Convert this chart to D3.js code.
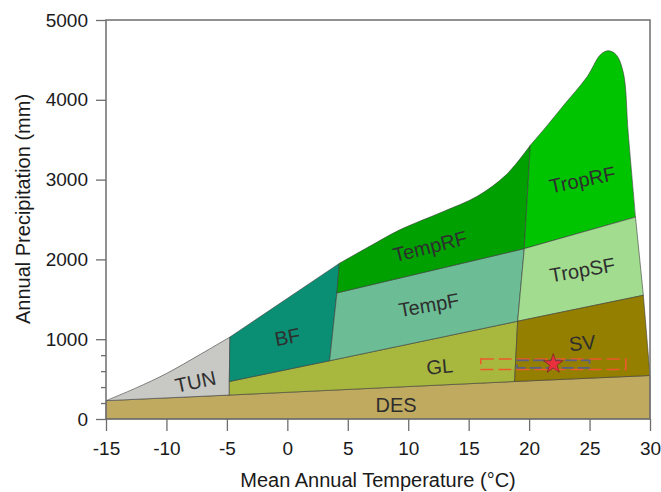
<!DOCTYPE html>
<html>
<head>
<meta charset="utf-8">
<script src="https://cdn.jsdelivr.net/npm/d3@7"></script>
<style>
  body { margin: 0; background: #fff; }
  svg { display: block; font-family: "Liberation Sans", Arial, Helvetica, sans-serif; }
</style>
</head>
<body>
<svg id="chart" width="661" height="492"></svg>
<script>
// axis ticks
var xTicks = [-15, -10, -5, 0, 5, 10, 15, 20, 25, 30];
var yTicks = [0, 1000, 2000, 3000, 4000, 5000];
var yMinorTicks = [200, 400, 600, 800];

// biome boundaries, [temperature degC, precipitation mm]
var desBase = [[-15, 0], [30, 0]];
var desTop = [[-15, 230], [-4.8, 300], [18.8, 470], [30, 545]];
var tunTop = [[-15, 230], [-12.5, 390], [-10, 570], [-7.2, 810], [-4.75, 1027]];
var coldEdge = [[-4.75, 1027], [-4.8, 470], [-4.8, 300]];
var glTop = [[-4.8, 470], [3.5, 730], [19.05, 1225]];
var bfTop = [[-4.75, 1027], [4.3, 1950]];
var bfRight = [[4.3, 1950], [4.1, 1580], [3.5, 730]];
var tempFTop = [[4.1, 1580], [19.6, 2135]];
var tempRFTop = [[4.3, 1950], [7, 2180], [9.3, 2370], [12.9, 2600], [15.7, 2790], [18.1, 3060], [20.1, 3430]];
var warmEdge = [[20.1, 3430], [19.6, 2135], [19.05, 1225], [18.8, 470]];
var tropRFTop = [[20.1, 3430], [21.45, 3670], [22.8, 3920], [24.8, 4290], [25.9, 4565], [26.55, 4615],
                 [27.2, 4565], [27.8, 4335], [28.2, 3580], [28.8, 2530]];
var tropSFTop = [[19.6, 2135], [28.8, 2530]];
var svTop = [[19.05, 1225], [29.45, 1550]];
var dryEdge = [[28.8, 2530], [29.45, 1550], [30, 545]];

var biomes = ["DES", "TUN", "GL", "BF", "TempF", "TempRF", "TropRF", "TropSF", "SV"];

// site marker and its ranges
var site = [22, 690];
var siteRange = [[19, 640], [25, 735]];
var siteRangeWide = [[16, 620], [28, 752]];

// ---- layout
var margin = { left: 106, top: 20, right: 11, bottom: 73 };
var width = 661 - margin.left - margin.right;
var height = 492 - margin.top - margin.bottom;

var colors = {
  DES: "#c0aa60", TUN: "#c8c8c4", GL: "#a8b83e", BF: "#0b8f74", TempF: "#6cbd95",
  TempRF: "#00a000", TropRF: "#00c400", TropSF: "#a2dc8e", SV: "#947f00"
};
var labelAt = {
  DES: [9, 180, 0], TUN: [-7.6, 470, -12], BF: [0, 1030, -11], GL: [12.6, 660, -5],
  TempF: [11.7, 1430, -10], TempRF: [11.8, 2165, -14], TropRF: [24.4, 3000, -12],
  TropSF: [24.4, 1870, -10], SV: [24.4, 955, -6]
};

var x = d3.scaleLinear().domain([-15, 30]).range([0, width]);
var y = d3.scaleLinear().domain([0, 5000]).range([height, 0]);

var svg = d3.select("#chart");
var g = svg.append("g").attr("transform", "translate(" + margin.left + "," + margin.top + ")");

var straight = d3.line().x(function(d) { return x(d[0]); }).y(function(d) { return y(d[1]); });
var curved = d3.line().x(function(d) { return x(d[0]); }).y(function(d) { return y(d[1]); })
  .curve(d3.curveCatmullRom.alpha(0.5));

// piece of a boundary, from index a to index b (reversed if a > b)
function part(arr, a, b, smooth) {
  var pts = a <= b ? arr.slice(a, b + 1) : arr.slice(b, a + 1).reverse();
  return { pts: pts, smooth: smooth };
}

function outline(parts) {
  return parts.map(function(p, i) {
    var s = (p.smooth ? curved : straight)(p.pts);
    return i === 0 ? s : "L" + s.slice(1);
  }).join("") + "Z";
}

var shapes = {
  DES: [part(desBase, 0, 1), part(desTop, 3, 0)],
  TUN: [part(tunTop, 0, 4, true), part(coldEdge, 0, 2), part(desTop, 1, 0)],
  GL: [part(glTop, 0, 2), part(warmEdge, 2, 3), part(desTop, 2, 1), part(coldEdge, 2, 1)],
  BF: [part(bfTop, 0, 1), part(bfRight, 0, 2), part(glTop, 1, 0), part(coldEdge, 1, 0)],
  TempF: [part(tempFTop, 0, 1), part(warmEdge, 1, 2), part(glTop, 2, 1), part(bfRight, 2, 1)],
  TempRF: [part(tempRFTop, 0, 6, true), part(warmEdge, 0, 1), part(tempFTop, 1, 0), part(bfRight, 1, 0)],
  TropRF: [part(tropRFTop, 0, 9, true), part(tropSFTop, 1, 0), part(warmEdge, 1, 0)],
  TropSF: [part(tropSFTop, 0, 1), part(dryEdge, 0, 1), part(svTop, 1, 0), part(warmEdge, 2, 1)],
  SV: [part(svTop, 0, 1), part(dryEdge, 1, 2), part(desTop, 3, 2), part(warmEdge, 3, 2)]
};

g.append("g")
  .selectAll("path")
  .data(biomes)
  .enter()
  .append("path")
  .attr("d", function(d) { return outline(shapes[d]); })
  .attr("fill", function(d) { return colors[d]; })
  .attr("stroke", "#3c3c3c")
  .attr("stroke-width", 0.6)
  .attr("stroke-linejoin", "round");

g.append("g")
  .selectAll("text")
  .data(biomes)
  .enter()
  .append("text")
  .attr("transform", function(d) {
    var l = labelAt[d];
    return "translate(" + x(l[0]) + "," + y(l[1]) + ") rotate(" + l[2] + ")";
  })
  .attr("text-anchor", "middle")
  .attr("dy", "0.36em")
  .attr("font-size", 20)
  .attr("fill", "#2e2e2e")
  .text(function(d) { return d; });

// site ranges and marker
function rangeRect(r, color, dash, sw) {
  g.append("rect")
    .attr("x", x(r[0][0]))
    .attr("y", y(r[1][1]))
    .attr("width", x(r[1][0]) - x(r[0][0]))
    .attr("height", y(r[0][1]) - y(r[1][1]))
    .attr("fill", "none")
    .attr("stroke", color)
    .attr("stroke-width", sw)
    .attr("stroke-dasharray", dash);
}
rangeRect(siteRangeWide, "#ec5a2c", "13,5", 1.6);
rangeRect(siteRange, "#5b6080", "12,4", 1.8);

g.append("path")
  .attr("d", d3.symbol(d3.symbolStar).size(120)())
  .attr("transform", "translate(" + x(site[0]) + "," + y(site[1]) + ")")
  .attr("fill", "#e8313c")
  .attr("stroke", "#7a2a2a")
  .attr("stroke-width", 0.8);

// frame
g.append("rect")
  .attr("width", width)
  .attr("height", height)
  .attr("fill", "none")
  .attr("stroke", "#6e6e6e")
  .attr("stroke-width", 1.5);

// axes
var plain = function(d) { return String(d); };
var xAxis = g.append("g")
  .attr("transform", "translate(0," + height + ")")
  .call(d3.axisBottom(x).tickValues(xTicks).tickSize(12).tickPadding(11).tickFormat(plain));
var yAxis = g.append("g")
  .call(d3.axisLeft(y).tickValues(yTicks).tickSize(10).tickPadding(8).tickFormat(plain));
var yMinor = g.append("g")
  .call(d3.axisLeft(y).tickValues(yMinorTicks).tickSize(5).tickFormat(""));

[xAxis, yAxis, yMinor].forEach(function(a) {
  a.select(".domain").remove();
  a.selectAll(".tick line").attr("stroke", "#6e6e6e").attr("stroke-width", 1.3);
  a.selectAll(".tick text")
    .attr("font-size", 19)
    .attr("font-family", "'Liberation Sans', Arial, Helvetica, sans-serif")
    .attr("fill", "#1a1a1a");
});

svg.append("text")
  .attr("x", margin.left + width / 2)
  .attr("y", 480)
  .attr("text-anchor", "middle")
  .attr("dy", "0.36em")
  .attr("font-size", 20)
  .attr("fill", "#1a1a1a")
  .text("Mean Annual Temperature (°C)");

svg.append("text")
  .attr("transform", "translate(23,209) rotate(-90)")
  .attr("text-anchor", "middle")
  .attr("dy", "0.36em")
  .attr("font-size", 20)
  .attr("fill", "#1a1a1a")
  .text("Annual Precipitation (mm)");
</script>
</body>
</html>
